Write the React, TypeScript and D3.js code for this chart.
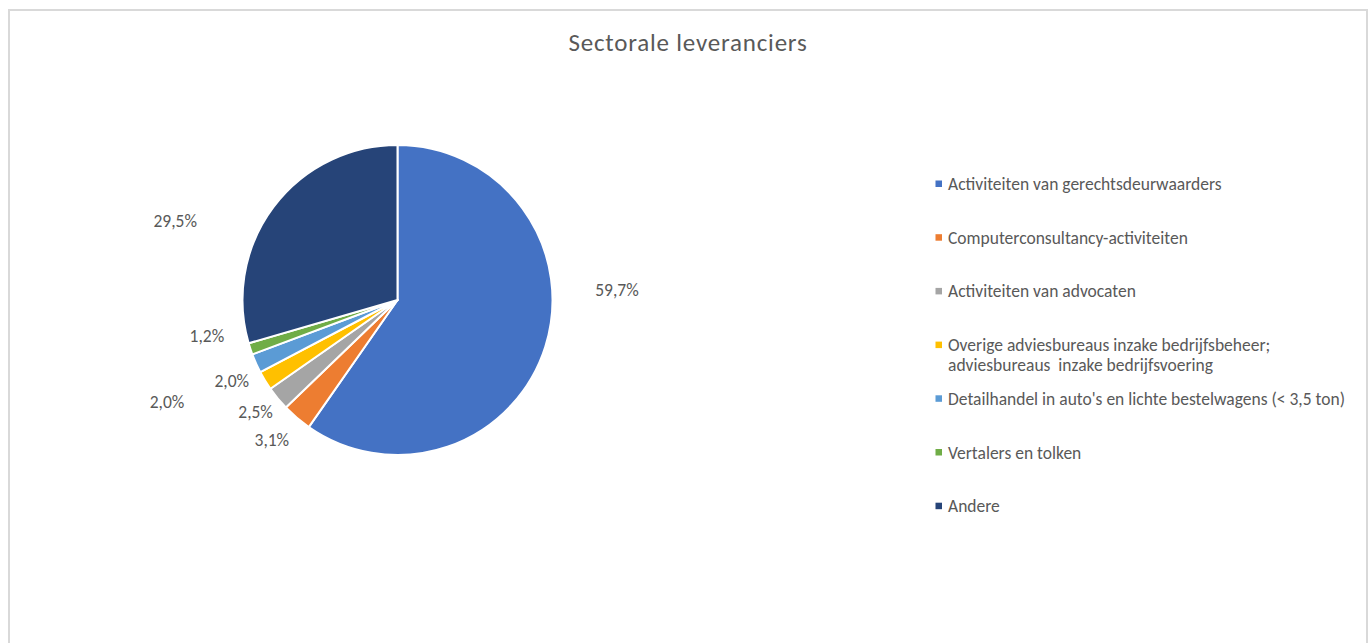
import React from "react";
import * as d3 from "d3";

// ---- data ----
const categories: string[] = [
  "Activiteiten van gerechtsdeurwaarders",
  "Computerconsultancy-activiteiten",
  "Activiteiten van advocaten",
  "Overige adviesbureaus inzake bedrijfsbeheer;\nadviesbureaus  inzake bedrijfsvoering",
  "Detailhandel in auto's en lichte bestelwagens (< 3,5 ton)",
  "Vertalers en tolken",
  "Andere",
];
const shares: number[] = [59.7, 3.1, 2.5, 2.0, 2.0, 1.2, 29.5];
const colors: string[] = ["#4472C4", "#ED7D31", "#A5A5A5", "#FFC000", "#5B9BD5", "#70AD47", "#264478"];
const title = "Sectorale leveranciers";

// ---- layout (label placement as "best fit" tweaks: angle shift in degrees, radius) ----
const labelAngleShift: number[] = [-20.1, 1.4, 1.1, 5.3, 0.3, 7.7, -17.3];
const labelRadius: number[] = [219.7, 188.2, 180.9, 184.5, 251.9, 194, 236];

const W = 1372;
const H = 643;
const cx = 397.5;
const cy = 300;
const R = 155;
const FONT = "Calibri, Carlito, Lato, 'Noto Sans', sans-serif";
const TEXT = "#595959";

const nl = d3.formatLocale({ decimal: ",", thousands: ".", grouping: [3], currency: ["€", ""] });
const fmt = nl.format(".1f");

export default function App() {
  const pie = d3.pie<number>().sort(null).value((d) => d)(shares);
  const arc = d3.arc<d3.PieArcDatum<number>>().innerRadius(0).outerRadius(R);
  const legendY = d3.scaleLinear().domain([0, 1]).range([184, 184 + 53.7]);

  return (
    <svg
      width={W}
      height={H}
      style={{ position: "absolute", left: 0, top: 0, background: "#fff" }}
      fontFamily={FONT}
    >
      <rect x={0} y={0} width={W} height={H} fill="#fff" />
      <rect x={9} y={10} width={1358} height={700} fill="#fff" stroke="#d9d9d9" strokeWidth={2} />
      <text x={688} y={51} textAnchor="middle" fontSize={25} letterSpacing={0.8} fill={TEXT}>
        {title}
      </text>
      <g transform={`translate(${cx},${cy})`}>
        {pie.map((p, i) => (
          <path key={i} d={arc(p) || ""} fill={colors[i]} stroke="#fff" strokeWidth={2} strokeLinejoin="round" />
        ))}
        {pie.map((p, i) => {
          const a = (p.startAngle + p.endAngle) / 2 + (labelAngleShift[i] * Math.PI) / 180;
          const x = labelRadius[i] * Math.sin(a);
          const y = -labelRadius[i] * Math.cos(a);
          return (
            <text key={"l" + i} x={x} y={y} dy="0.36em" textAnchor="middle" fontSize={17.5} fill={TEXT}>
              {fmt(p.data) + "%"}
            </text>
          );
        })}
      </g>
      <g>
        {categories.map((c, i) => {
          const y = legendY(i);
          const lines = c.split("\n");
          return (
            <g key={"lg" + i}>
              <rect x={935.5} y={y - 3.5} width={6.5} height={6.5} fill={colors[i]} />
              {lines.map((ln, j) => (
                <text
                  key={j}
                  x={948}
                  y={y + 6 + j * 20}
                  fontSize={17.5}
                  fill={TEXT}
                  style={{ whiteSpace: "pre" }}
                >
                  {ln}
                </text>
              ))}
            </g>
          );
        })}
      </g>
    </svg>
  );
}
